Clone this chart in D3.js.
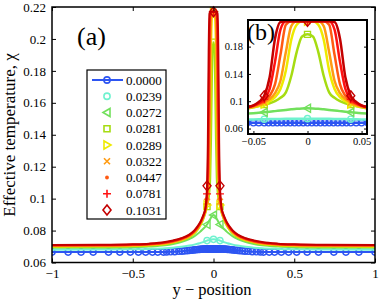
<!DOCTYPE html>
<html>
<head>
<meta charset="utf-8">
<script src="https://cdn.jsdelivr.net/npm/d3@7/dist/d3.min.js"></script>
<style>
  body { margin: 0; background: #fff; }
  text { font-family: "Liberation Serif", "Times New Roman", serif; fill: #000; }
</style>
</head>
<body>
<div id="chart"></div>
<script>
// strain rates shown in the legend
var labels = ["0.0000", "0.0239", "0.0272", "0.0281", "0.0289", "0.0322", "0.0447", "0.0781", "0.1031"];
var colors = ["#2d55f2", "#6ff2cf", "#72e05c", "#a6dc12", "#eeea00", "#ff9b12", "#ff5a12", "#ff1212", "#c40000"];
var symbols = ["circle", "circle", "triL", "square", "triR", "cross", "dot", "plus", "diamond"];

// profiles are symmetric about y = 0, values read for y >= 0
var xHalf = [0, 0.005, 0.01, 0.015, 0.02, 0.025, 0.03, 0.035, 0.04, 0.045, 0.05,
             0.06, 0.07, 0.08, 0.1, 0.12, 0.15, 0.2, 0.25, 0.3, 0.4, 0.5, 0.7, 1.0];

var chi0239 = [0.0745, 0.0745, 0.0744, 0.0743, 0.0742, 0.0741, 0.074, 0.0739, 0.0737, 0.0735, 0.0733,
               0.0729, 0.0726, 0.0723, 0.0717, 0.0712, 0.0706, 0.0698, 0.0693, 0.0689, 0.0685, 0.0683, 0.0681, 0.068];
var chi0272 = [0.0897, 0.0895, 0.089, 0.0882, 0.0873, 0.0864, 0.0855, 0.0846, 0.0838, 0.0831, 0.0825,
               0.0815, 0.0805, 0.0795, 0.0778, 0.0763, 0.0747, 0.0728, 0.0716, 0.0708, 0.07, 0.0696, 0.0693, 0.0692];
var chi0281 = [0.198, 0.195, 0.172, 0.137, 0.113, 0.105, 0.1, 0.097, 0.095, 0.093, 0.091,
               0.088, 0.0855, 0.0834, 0.0802, 0.078, 0.0757, 0.0736, 0.0723, 0.0713, 0.0705, 0.0701, 0.0698, 0.0697];
var chi0289 = [0.217, 0.217, 0.212, 0.19, 0.145, 0.118, 0.106, 0.1, 0.096, 0.093, 0.0915,
               0.0885, 0.086, 0.0838, 0.0806, 0.0783, 0.076, 0.0739, 0.0726, 0.0716, 0.0708, 0.0704, 0.0701, 0.07];
var chi0322 = [0.217, 0.217, 0.217, 0.21, 0.172, 0.13, 0.112, 0.103, 0.098, 0.0945, 0.092,
               0.089, 0.0865, 0.0843, 0.081, 0.0787, 0.0764, 0.0742, 0.0729, 0.0719, 0.0711, 0.0707, 0.0704, 0.0703];
var chi0447 = [0.217, 0.217, 0.217, 0.217, 0.212, 0.168, 0.125, 0.108, 0.1, 0.096, 0.093,
               0.0895, 0.087, 0.0848, 0.0815, 0.0792, 0.0768, 0.0746, 0.0732, 0.0722, 0.0713, 0.0709, 0.0707, 0.0706];
var chi0781 = [0.217, 0.217, 0.217, 0.217, 0.217, 0.205, 0.158, 0.118, 0.103, 0.097, 0.0935,
               0.09, 0.0875, 0.0853, 0.082, 0.0796, 0.0771, 0.0749, 0.0735, 0.0725, 0.0716, 0.0712, 0.0709, 0.0708];
var chi1031 = [0.217, 0.217, 0.217, 0.217, 0.217, 0.216, 0.192, 0.135, 0.108, 0.099, 0.094,
               0.0905, 0.088, 0.0857, 0.0825, 0.08, 0.0775, 0.0752, 0.0738, 0.0728, 0.0718, 0.0714, 0.0711, 0.071];

// the zero-rate run is sampled on its own (marker) grid
var blueXHalf = [0, 0.004, 0.008, 0.012, 0.016, 0.02, 0.024, 0.028, 0.032, 0.036, 0.04, 0.045, 0.05,
                 0.056, 0.063, 0.07, 0.078, 0.087, 0.097, 0.108, 0.12, 0.133, 0.147, 0.162, 0.178, 0.195,
                 0.215, 0.24, 0.265, 0.29, 0.31, 0.345, 0.378, 0.42, 0.465, 0.515, 0.58, 0.65, 0.745, 0.82, 0.9, 1.0];
var blueYHalf = [0.0685, 0.0685, 0.0685, 0.0685, 0.0685, 0.0685, 0.0685, 0.0685, 0.0685, 0.0685, 0.0685, 0.0685, 0.0685,
                 0.0685, 0.0684, 0.0684, 0.0683, 0.0682, 0.0681, 0.068, 0.0679, 0.0677, 0.0676, 0.0674, 0.0673, 0.0671,
                 0.067, 0.0668, 0.0667, 0.0666, 0.0665, 0.0665, 0.0665, 0.0665, 0.0665, 0.0665, 0.0665, 0.0665, 0.0665, 0.0665, 0.0665, 0.0665];

var markerX = [-0.04, 0, 0.04];

var xTicks = [-1, -0.5, 0, 0.5, 1];
var yTicks = [0.06, 0.08, 0.1, 0.12, 0.14, 0.16, 0.18, 0.2, 0.22];
var insetXTicks = [-0.05, 0, 0.05];
var insetYTicks = [0.06, 0.1, 0.14, 0.18];

function mirror(xs, ys) {
  var pts = [];
  for (var i = xs.length - 1; i > 0; i--) pts.push([-xs[i], ys[i]]);
  for (var j = 0; j < xs.length; j++) pts.push([xs[j], ys[j]]);
  return pts;
}

var series = [mirror(blueXHalf, blueYHalf)];
[chi0239, chi0272, chi0281, chi0289, chi0322, chi0447, chi0781, chi1031].forEach(function(v) {
  series.push(mirror(xHalf, v));
});

var fmt = function(d) { return String(+d.toFixed(3)).replace("-", "\u2212"); };

var width = 384, height = 300;
var svg = d3.select("#chart").append("svg")
    .attr("width", width).attr("height", height);

var x = d3.scaleLinear().domain([-1, 1]).range([52, 375]);
var y = d3.scaleLinear().domain([0.06, 0.22]).range([262.5, 7]);

function markerPath(type) {
  switch (type) {
    case "circle": return d3.symbol(d3.symbolCircle, 30)();
    case "square": return "M-3,-3H3V3H-3Z";
    case "triL": return "M-4,0L3,-4L3,4Z";
    case "triR": return "M4,0L-3,-4L-3,4Z";
    case "cross": return "M-3,-3L3,3M-3,3L3,-3";
    case "plus": return "M-4,0H4M0,-4V4";
    case "diamond": return "M0,-5L4,0L0,5L-4,0Z";
    case "dot": return d3.symbol(d3.symbolCircle, 4)();
  }
}

function drawSeries(g, xs, ys, lw) {
  var line = d3.line()
      .x(function(d) { return xs(d[0]); })
      .y(function(d) { return ys(d[1]); })
      .curve(d3.curveMonotoneX);
  series.forEach(function(pts, i) {
    g.append("path")
      .attr("d", line(pts))
      .attr("fill", "none")
      .attr("stroke", colors[i])
      .attr("stroke-width", lw);
    var marks = i === 0 ? pts : pts.filter(function(p) {
      return markerX.some(function(m) { return Math.abs(m - p[0]) < 1e-9; });
    });
    g.selectAll(null).data(marks).enter().append("path")
      .attr("d", markerPath(symbols[i]))
      .attr("transform", function(d) { return "translate(" + xs(d[0]) + "," + ys(d[1]) + ")"; })
      .attr("fill", symbols[i] === "dot" ? colors[i] : "none")
      .attr("stroke", colors[i])
      .attr("stroke-width", 1.4);
  });
}

// main panel
svg.append("clipPath").attr("id", "clipMain").append("rect")
    .attr("x", 52).attr("y", 5).attr("width", 323).attr("height", 258);
var main = svg.append("g").attr("clip-path", "url(#clipMain)");
drawSeries(main, x, y, 2);

svg.append("g").attr("transform", "translate(0,262.5)")
    .call(d3.axisBottom(x).tickValues(xTicks).tickFormat(fmt).tickSizeInner(-4).tickSizeOuter(0).tickPadding(6))
    .call(function(g) { g.select(".domain").remove(); g.selectAll("text").attr("font-size", 13); });
svg.append("g").attr("transform", "translate(0,7)")
    .call(d3.axisTop(x).tickValues(xTicks).tickFormat("").tickSizeInner(-4).tickSizeOuter(0))
    .call(function(g) { g.select(".domain").remove(); });
svg.append("g").attr("transform", "translate(52,0)")
    .call(d3.axisLeft(y).tickValues(yTicks).tickFormat(fmt).tickSizeInner(-4).tickSizeOuter(0).tickPadding(6))
    .call(function(g) { g.select(".domain").remove(); g.selectAll("text").attr("font-size", 13); });
svg.append("g").attr("transform", "translate(375,0)")
    .call(d3.axisRight(y).tickValues(yTicks).tickFormat("").tickSizeInner(-4).tickSizeOuter(0))
    .call(function(g) { g.select(".domain").remove(); });
svg.append("rect").attr("x", 52).attr("y", 7).attr("width", 323).attr("height", 255.5)
    .attr("fill", "none").attr("stroke", "#000").attr("stroke-width", 1.5);

svg.append("text").attr("x", 212).attr("y", 295).attr("text-anchor", "middle")
    .attr("font-size", 16.5).text("y \u2212 position");
svg.append("text").attr("transform", "translate(15,135) rotate(-90)").attr("text-anchor", "middle")
    .attr("font-size", 17).text("Effective temperature, \u03c7");
svg.append("text").attr("x", 77).attr("y", 45).attr("font-size", 26).text("(a)");

// legend
var legend = svg.append("g");
legend.append("rect").attr("x", 87).attr("y", 70).attr("width", 79).attr("height", 149)
    .attr("fill", "#fff").attr("stroke", "#000").attr("stroke-width", 1.2);
labels.forEach(function(lab, i) {
  var ly = 80 + i * 16.25;
  if (i === 0) {
    legend.append("line").attr("x1", 92).attr("x2", 123).attr("y1", ly).attr("y2", ly)
      .attr("stroke", colors[0]).attr("stroke-width", 2);
  }
  legend.append("path").attr("d", markerPath(symbols[i]))
    .attr("transform", "translate(107," + ly + ")")
    .attr("fill", symbols[i] === "dot" ? colors[i] : "none")
    .attr("stroke", colors[i]).attr("stroke-width", 1.6);
  legend.append("text").attr("x", 126).attr("y", ly + 4.5).attr("font-size", 13).text(lab);
});

// inset (b)
var xi = d3.scaleLinear().domain([-0.055, 0.055]).range([248, 367]);
var yi = d3.scaleLinear().domain([0.052, 0.219]).range([134, 20]);
svg.append("rect").attr("x", 248).attr("y", 20).attr("width", 119).attr("height", 114).attr("fill", "#fff");
svg.append("clipPath").attr("id", "clipInset").append("rect")
    .attr("x", 248).attr("y", 20).attr("width", 119).attr("height", 114);
var inset = svg.append("g").attr("clip-path", "url(#clipInset)");
drawSeries(inset, xi, yi, 2.5);

svg.append("g").attr("transform", "translate(0,134)")
    .call(d3.axisBottom(xi).tickValues(insetXTicks).tickFormat(fmt).tickSizeInner(-3).tickSizeOuter(0).tickPadding(4))
    .call(function(g) { g.select(".domain").remove(); g.selectAll("text").attr("font-size", 10.5); });
svg.append("g").attr("transform", "translate(248,0)")
    .call(d3.axisLeft(yi).tickValues(insetYTicks).tickFormat(fmt).tickSizeInner(-3).tickSizeOuter(0).tickPadding(5))
    .call(function(g) { g.select(".domain").remove(); g.selectAll("text").attr("font-size", 10.5); });
svg.append("g").attr("transform", "translate(367,0)")
    .call(d3.axisRight(yi).tickValues(insetYTicks).tickFormat("").tickSizeInner(-3).tickSizeOuter(0))
    .call(function(g) { g.select(".domain").remove(); });
svg.append("rect").attr("x", 248).attr("y", 20).attr("width", 119).attr("height", 114)
    .attr("fill", "none").attr("stroke", "#000").attr("stroke-width", 2);
svg.append("text").attr("x", 247).attr("y", 40).attr("font-size", 24).text("(b)");
</script>
</body>
</html>
